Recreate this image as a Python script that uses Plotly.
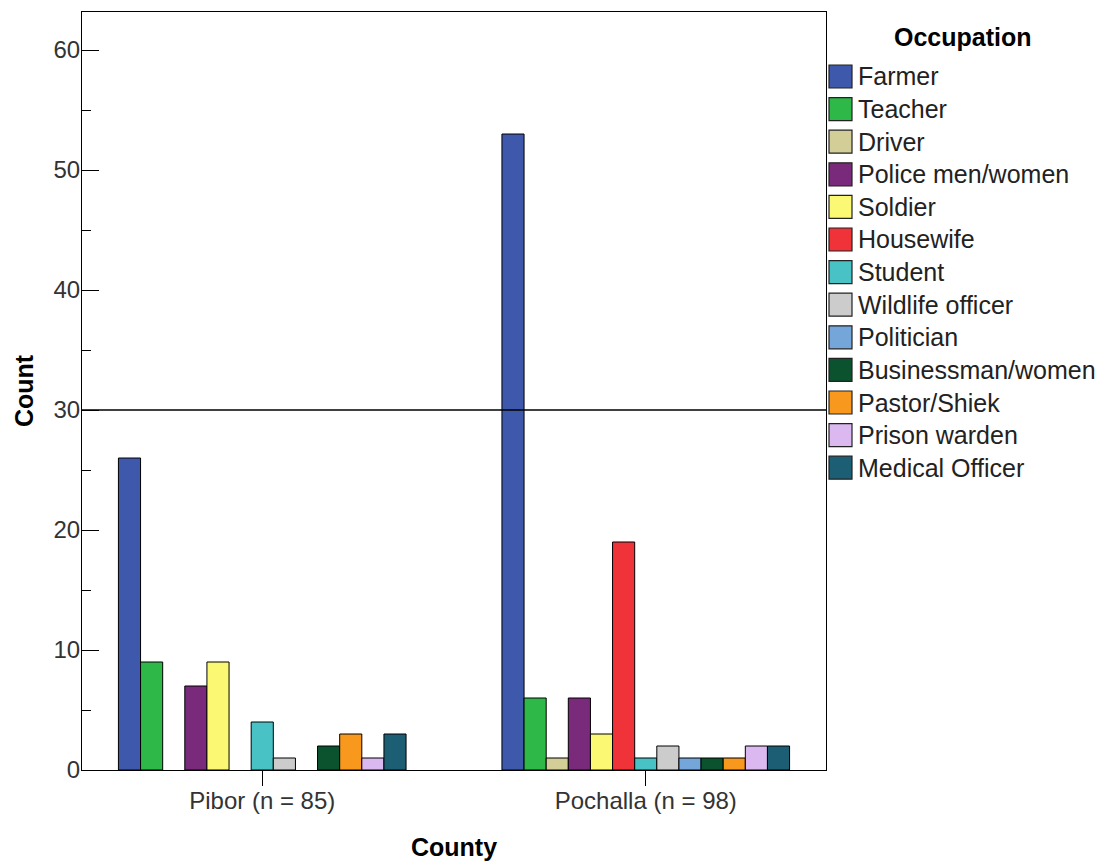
import plotly.graph_objects as go

counties = ["Pibor (n = 85)", "Pochalla (n = 98)"]
occupations = ["Farmer", "Teacher", "Driver", "Police men/women", "Soldier", "Housewife",
               "Student", "Wildlife officer", "Politician", "Businessman/women",
               "Pastor/Shiek", "Prison warden", "Medical Officer"]
pibor = [26, 9, None, 7, 9, None, 4, 1, None, 2, 3, 1, 3]
pochalla = [53, 6, 1, 6, 3, 19, 1, 2, 1, 1, 1, 2, 2]
colors = ["#3E58AC", "#2EB848", "#D3CE97", "#7A2A7B", "#FBF873", "#EF3338",
          "#48C2C5", "#CCCCCC", "#74A6D9", "#0A532E", "#F8981D", "#DBB8F0", "#1C5F75"]
reference_value = 30

FONT = "Arial, Liberation Sans, sans-serif"

fig = go.Figure()
for occ, a, b, c in zip(occupations, pibor, pochalla, colors):
    fig.add_trace(go.Bar(
        name=occ, x=counties, y=[a, b],
        marker=dict(color=c, line=dict(color="black", width=1)),
        showlegend=False,
    ))

# reference line
fig.add_shape(type="line", xref="paper", yref="y", x0=0, x1=1,
              y0=reference_value, y1=reference_value,
              line=dict(color="black", width=1.5))

# manual legend
fig.add_annotation(text="<b>Occupation</b>", xref="paper", yref="paper",
                   x=(963 - 82) / 744, y=1 - (37 - 12) / 758, showarrow=False,
                   xanchor="center", yanchor="middle",
                   font=dict(family=FONT, size=25, color="black"))
row0, step, sw = 65, 32.6, 23
for i, (occ, c) in enumerate(zip(occupations, colors)):
    top = row0 + step * i
    fig.add_shape(type="rect", xref="paper", yref="paper",
                  x0=(829 - 82) / 744, x1=(829 + sw - 82) / 744,
                  y0=1 - (top - 12) / 758, y1=1 - (top + sw - 12) / 758,
                  fillcolor=c, line=dict(color="#222222", width=1.2))
    fig.add_annotation(text=occ, xref="paper", yref="paper",
                       x=(856 - 82) / 744, y=1 - (top + sw / 2 - 12) / 758,
                       xanchor="left", yanchor="middle", showarrow=False,
                       font=dict(family=FONT, size=25, color="#222222"))

fig.update_layout(
    width=1107, height=865,
    margin=dict(l=82, r=281, t=12, b=95),
    paper_bgcolor="white", plot_bgcolor="white",
    barmode="group", bargap=0.25, bargroupgap=0,
    font=dict(family=FONT, size=24, color="#333333"),
    showlegend=False,
)
fig.update_xaxes(
    range=[-0.47, 1.47], showline=True, linecolor="black", linewidth=1.2, mirror=True,
    ticks="outside", ticklen=15, tickcolor="black", ticklabelstandoff=-6,
    tickfont=dict(family=FONT, size=24, color="#333333"),
    title=dict(text="<b>County</b>", font=dict(family=FONT, size=25, color="black"), standoff=25),
    showgrid=False, zeroline=False, automargin=False,
)
fig.update_yaxes(
    range=[0, 63.17], showline=True, linecolor="black", linewidth=1.2, mirror=True,
    ticks="inside", ticklen=17, tickcolor="black", dtick=10, ticklabelstandoff=-4,
    minor=dict(dtick=5, ticks="inside", ticklen=9, tickcolor="black"),
    tickfont=dict(family=FONT, size=24, color="#333333"),
    title=dict(text="<b>Count</b>", font=dict(family=FONT, size=25, color="black"), standoff=12),
    showgrid=False, zeroline=False, automargin=False,
)

fig.write_html("out.html", config={"displayModeBar": False},
               post_script="document.body.style.margin='0';")
